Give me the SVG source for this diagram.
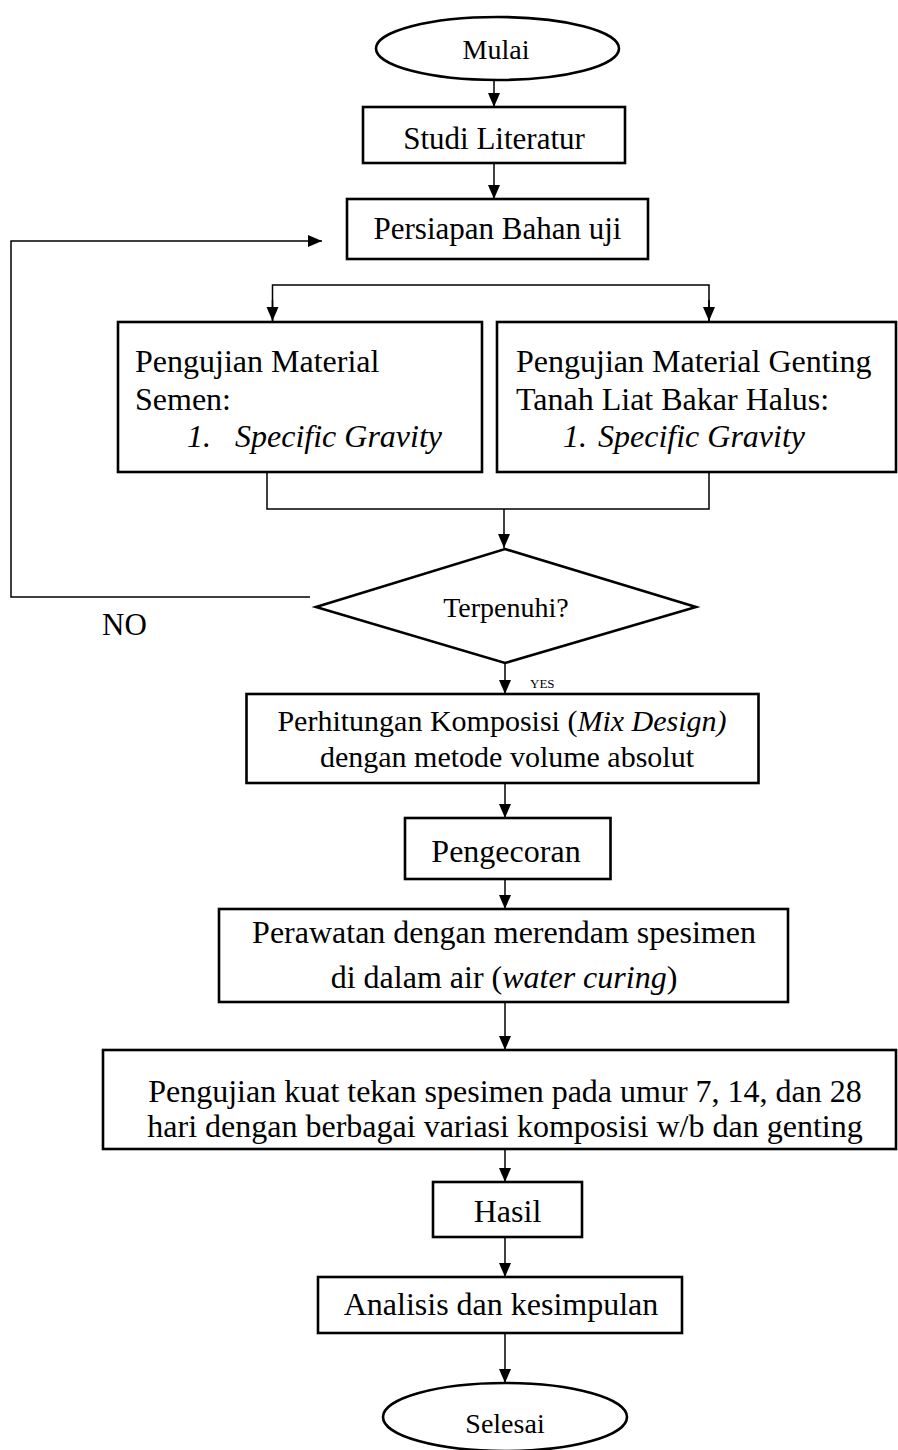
<svg xmlns="http://www.w3.org/2000/svg" width="898" height="1450" viewBox="0 0 898 1450">
<style>
text{font-family:"Liberation Serif","Times New Roman",serif;fill:#000}
.box{fill:#fff;stroke:#000;stroke-width:2.6}
.c{fill:none;stroke:#000;stroke-width:1.5}
.t32{font-size:32px}
.t31{font-size:31px}
.t30{font-size:30px}
.t28{font-size:28px}
.mid{text-anchor:middle}
.i{font-style:italic}
</style>
<defs>
<marker id="ah" markerUnits="userSpaceOnUse" markerWidth="16" markerHeight="14" refX="14" refY="6" orient="auto">
<path d="M0,0 L14,6 L0,12 z" fill="#000"/>
</marker>
</defs>
<rect width="898" height="1450" fill="#fff"/>
<g id="connectors">
<line class="c" x1="494" y1="80" x2="494" y2="107" marker-end="url(#ah)"/>
<line class="c" x1="494" y1="163" x2="494" y2="199" marker-end="url(#ah)"/>
<polyline class="c" points="272.5,321 272.5,285 709,285 709,321"/>
<line class="c" x1="272.5" y1="300" x2="272.5" y2="321" marker-end="url(#ah)"/>
<line class="c" x1="709" y1="300" x2="709" y2="321" marker-end="url(#ah)"/>
<polyline class="c" points="267,472 267,509 709,509 709,472"/>
<line class="c" x1="504" y1="509" x2="504" y2="548" marker-end="url(#ah)"/>
<polyline class="c" points="310,597 11,597 11,241 322,241" marker-end="url(#ah)"/>
<line class="c" x1="505" y1="663" x2="505" y2="694" marker-end="url(#ah)"/>
<line class="c" x1="505" y1="783" x2="505" y2="818" marker-end="url(#ah)"/>
<line class="c" x1="505" y1="879" x2="505" y2="909" marker-end="url(#ah)"/>
<line class="c" x1="505" y1="1002" x2="505" y2="1050" marker-end="url(#ah)"/>
<line class="c" x1="505" y1="1149" x2="505" y2="1182" marker-end="url(#ah)"/>
<line class="c" x1="505" y1="1237" x2="505" y2="1277" marker-end="url(#ah)"/>
<line class="c" x1="505" y1="1333" x2="505" y2="1383" marker-end="url(#ah)"/>
<text x="102" y="635" class="t31">NO</text>
<text x="530" y="688" style="font-size:13px">YES</text>
</g>
<g id="mulai">
<ellipse class="box" cx="497.5" cy="48.5" rx="121.5" ry="31.5"/>
<text x="496" y="59" class="t28 mid">Mulai</text>
</g>
<g id="studi">
<rect class="box" x="363" y="107" width="262" height="56"/>
<text x="494" y="149" class="t31 mid">Studi Literatur</text>
</g>
<g id="persiapan">
<rect class="box" x="347" y="199" width="301" height="60"/>
<text x="497.5" y="239" class="t31 mid">Persiapan Bahan uji</text>
</g>
<g id="uji-semen">
<rect class="box" x="118" y="322" width="364" height="150"/>
<text x="135" y="372" class="t32">Pengujian Material</text>
<text x="135" y="410" class="t32">Semen:</text>
<text x="187" y="447" class="t32 i">1.</text>
<text x="235" y="447" class="t32 i">Specific Gravity</text>
</g>
<g id="uji-genting">
<rect class="box" x="497" y="322" width="399" height="150"/>
<text x="516" y="372" class="t32">Pengujian Material Genting</text>
<text x="516" y="410" class="t32">Tanah Liat Bakar Halus:</text>
<text x="563" y="447" class="t32 i">1.</text>
<text x="598" y="447" class="t32 i">Specific Gravity</text>
</g>
<g id="terpenuhi">
<polygon class="box" points="505,549 696,607 505,663 316,607"/>
<text x="506" y="617" class="t28 mid">Terpenuhi?</text>
</g>
<g id="mix-design">
<rect class="box" x="246.5" y="694" width="512" height="89"/>
<text x="502" y="731" class="t30 mid">Perhitungan Komposisi (<tspan class="i">Mix Design)</tspan></text>
<text x="507" y="767" class="t30 mid">dengan metode volume absolut</text>
</g>
<g id="pengecoran">
<rect class="box" x="405" y="818" width="205.5" height="61"/>
<text x="506" y="862" class="t32 mid">Pengecoran</text>
</g>
<g id="perawatan">
<rect class="box" x="219" y="909" width="569" height="93"/>
<text x="504" y="943" class="t32 mid">Perawatan dengan merendam spesimen</text>
<text x="504" y="988" class="t32 mid">di dalam air (<tspan class="i">water curing</tspan>)</text>
</g>
<g id="pengujian-kuat-tekan">
<rect class="box" x="103" y="1050" width="793" height="99"/>
<text x="505" y="1102" class="t32 mid">Pengujian kuat tekan spesimen pada umur 7, 14, dan 28</text>
<text x="505" y="1137" class="t32 mid">hari dengan berbagai variasi komposisi w/b dan genting</text>
</g>
<g id="hasil">
<rect class="box" x="433" y="1182" width="149" height="55"/>
<text x="507.5" y="1222" class="t32 mid">Hasil</text>
</g>
<g id="analisis">
<rect class="box" x="318" y="1277" width="364" height="56"/>
<text x="501" y="1315" class="t32 mid">Analisis dan kesimpulan</text>
</g>
<g id="selesai">
<ellipse class="box" cx="505" cy="1417" rx="122" ry="34"/>
<text x="505" y="1433" class="t28 mid">Selesai</text>
</g>
</svg>
